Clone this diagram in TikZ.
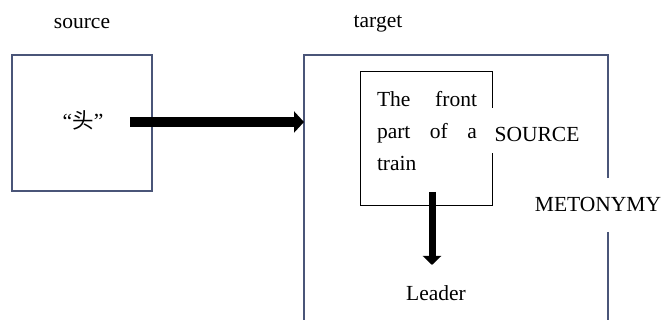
\documentclass[tikz,border=0pt]{standalone}
\usepackage{fontspec}
\setmainfont{Liberation Serif}
\newfontfamily\cjk{Noto Sans CJK SC}
\usetikzlibrary{arrows.meta}
\definecolor{boxc}{HTML}{4A5578}
\tikzset{
  lbl/.style={inner sep=0pt, font=\fontsize{21.5}{32}\selectfont},
  bigarrow/.style={line width=10pt, -{Triangle[length=10pt,width=21pt]}},
  downarrow/.style={line width=7pt, -{Triangle[length=9pt,width=18pt]}},
  outer/.style={draw=boxc, line width=1.2pt},
  inner/.style={draw=black, line width=1pt}
}
\begin{document}
\begin{tikzpicture}[x=1pt,y=-1pt]
\useasboundingbox (0,0) rectangle (665,320);
% labels
\node[lbl] (src) at (82,24) {source};
\node[lbl] (tgt) at (378,24) {target};
% source box
\node[outer, minimum width=140pt, minimum height=136pt, inner sep=0pt] (sbox) at (82,123) {};
\node[lbl] (tou) at (83,120) {“{\cjk 头}”};
% target box (open at bottom, gap on right)
\coordinate (tl) at (304,55);
\coordinate (tr) at (608,55);
\coordinate (tbl) at (304,320);
\coordinate (trg1) at (608,178);
\coordinate (trg2) at (608,232);
\coordinate (tbr) at (608,320);
\draw[boxc, line width=1.2pt] (tbl) -- (tl) -- (tr) -- (trg1);
\draw[boxc, line width=1.2pt] (trg2) -- (tbr);
\node[lbl] (meto) at (598,204) {METONYMY};
% inner box
\coordinate (i1) at (492,108);
\coordinate (i2) at (492,72);
\coordinate (i3) at (360,72);
\coordinate (i4) at (360,206);
\coordinate (i5) at (492,206);
\coordinate (i6) at (492,153);
\draw[inner] (i1) -- (i2) -- (i3) -- (i4) -- (i5) -- (i6);
\node[lbl, align=left] (front) at (427,131) {\makebox[100pt][s]{The front}\\\makebox[100pt][s]{part of a}\\\makebox[100pt][l]{train}};
\node[lbl] (source2) at (537,134) {SOURCE};
\node[lbl] (leader) at (436,293) {Leader};
% arrows
\coordinate (astart) at (130,122);
\draw[bigarrow] (astart) -- (tl |- astart);
\coordinate (dstart) at (432,192);
\coordinate (dend) at (432,265);
\draw[downarrow] (dstart) -- (dend);
\end{tikzpicture}
\end{document}
